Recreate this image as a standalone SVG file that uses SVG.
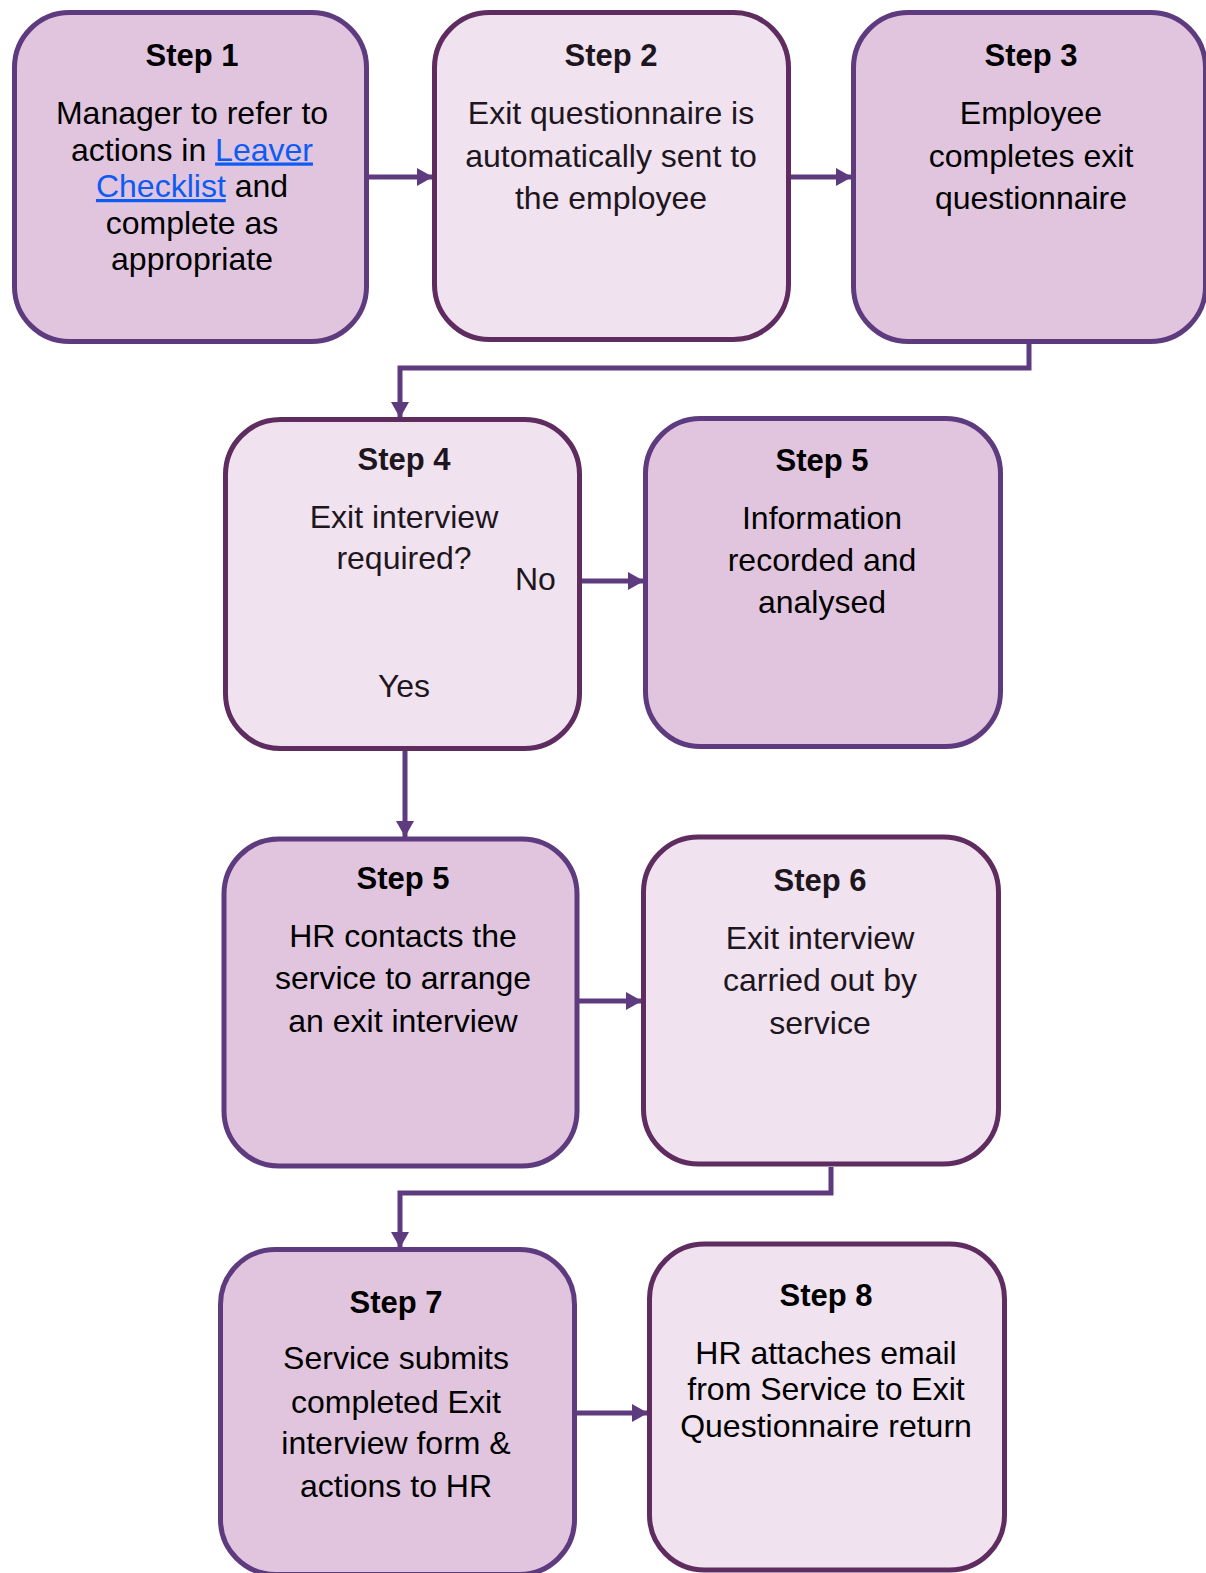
<svg xmlns="http://www.w3.org/2000/svg" width="1206" height="1573" viewBox="0 0 1206 1573">
<style>
.dark{fill:#E1C5DE;stroke:#5E3A7F;stroke-width:5}
.light{fill:#F0E2EE;stroke:#5F2C5F;stroke-width:5}
.t{font-family:"Liberation Sans",Arial,sans-serif;font-weight:bold;font-size:31px;text-anchor:middle;fill:#000}
.b{font-family:"Liberation Sans",Arial,sans-serif;font-size:32px;text-anchor:middle;fill:#000}
.lt{fill:#1E161E}
.link{fill:#0B5CF5;text-decoration:underline}
.c{fill:none;stroke:#5E3A7F;stroke-width:5;marker-end:url(#ah)}
</style>
<defs>
<marker id="ah" markerUnits="userSpaceOnUse" markerWidth="17" markerHeight="18" refX="16" refY="9" orient="auto">
<path d="M0,0 L16,9 L0,18 z" fill="#5E3A7F"/>
</marker>
</defs>
<rect width="1206" height="1573" fill="#fff"/>
<g id="connectors">
<path class="c" d="M369,177 H433"/>
<path class="c" d="M791,177 H852"/>
<path class="c" d="M1029,344 V368 H400 V418"/>
<path class="c" d="M582,581 H644"/>
<path class="c" d="M405,751 V837"/>
<path class="c" d="M579,1001 H642"/>
<path class="c" d="M831,1167 V1193 H400 V1248"/>
<path class="c" d="M577,1413 H648"/>
</g>
<g id="step1">
<rect class="dark" x="14.5" y="12.5" width="352" height="329" rx="55"/>
<text class="t" x="192" y="66">Step 1</text>
<text class="b" x="192" y="124">Manager to refer to</text>
<text class="b" x="192" y="160.5">actions in <tspan class="link">Leaver</tspan></text>
<text class="b" x="192" y="197"><tspan class="link">Checklist</tspan> and</text>
<text class="b" x="192" y="233.5">complete as</text>
<text class="b" x="192" y="270">appropriate</text>
</g>
<g id="step2">
<rect class="light" x="434.5" y="12.5" width="354" height="327" rx="55"/>
<text class="t lt" x="611" y="66">Step 2</text>
<text class="b lt" x="611" y="124">Exit questionnaire is</text>
<text class="b lt" x="611" y="167">automatically sent to</text>
<text class="b lt" x="611" y="209">the employee</text>
</g>
<g id="step3">
<rect class="dark" x="853.5" y="12.5" width="352" height="329" rx="55"/>
<text class="t" x="1031" y="66">Step 3</text>
<text class="b" x="1031" y="124">Employee</text>
<text class="b" x="1031" y="167">completes exit</text>
<text class="b" x="1031" y="209">questionnaire</text>
</g>
<g id="step4">
<rect class="light" x="225.5" y="419.5" width="354" height="329" rx="55"/>
<text class="t lt" x="404" y="470">Step 4</text>
<text class="b lt" x="404" y="528">Exit interview</text>
<text class="b lt" x="404" y="569">required?</text>
<text class="b lt" x="515" y="590" style="text-anchor:start">No</text>
<text class="b lt" x="404" y="697">Yes</text>
</g>
<g id="step5a">
<rect class="dark" x="645.5" y="418.5" width="355" height="328" rx="55"/>
<text class="t" x="822" y="470.5">Step 5</text>
<text class="b" x="822" y="529">Information</text>
<text class="b" x="822" y="571">recorded and</text>
<text class="b" x="822" y="613">analysed</text>
</g>
<g id="step5b">
<rect class="dark" x="224" y="839" width="353" height="327" rx="55"/>
<text class="t" x="403" y="889">Step 5</text>
<text class="b" x="403" y="947">HR contacts the</text>
<text class="b" x="403" y="989">service to arrange</text>
<text class="b" x="403" y="1032">an exit interview</text>
</g>
<g id="step6">
<rect class="light" x="643.5" y="837" width="355" height="327" rx="55"/>
<text class="t lt" x="820" y="891">Step 6</text>
<text class="b lt" x="820" y="949">Exit interview</text>
<text class="b lt" x="820" y="991">carried out by</text>
<text class="b lt" x="820" y="1034">service</text>
</g>
<g id="step7">
<rect class="dark" x="220.5" y="1249.5" width="354" height="325" rx="55"/>
<text class="t" x="396" y="1313">Step 7</text>
<text class="b" x="396" y="1369">Service submits</text>
<text class="b" x="396" y="1413">completed Exit</text>
<text class="b" x="396" y="1454">interview form &amp;</text>
<text class="b" x="396" y="1497">actions to HR</text>
</g>
<g id="step8">
<rect class="light" x="649.5" y="1244" width="355" height="326" rx="55"/>
<text class="t" x="826" y="1305.5">Step 8</text>
<text class="b" x="826" y="1364">HR attaches email</text>
<text class="b" x="826" y="1400">from Service to Exit</text>
<text class="b" x="826" y="1437">Questionnaire return</text>
</g>
</svg>
